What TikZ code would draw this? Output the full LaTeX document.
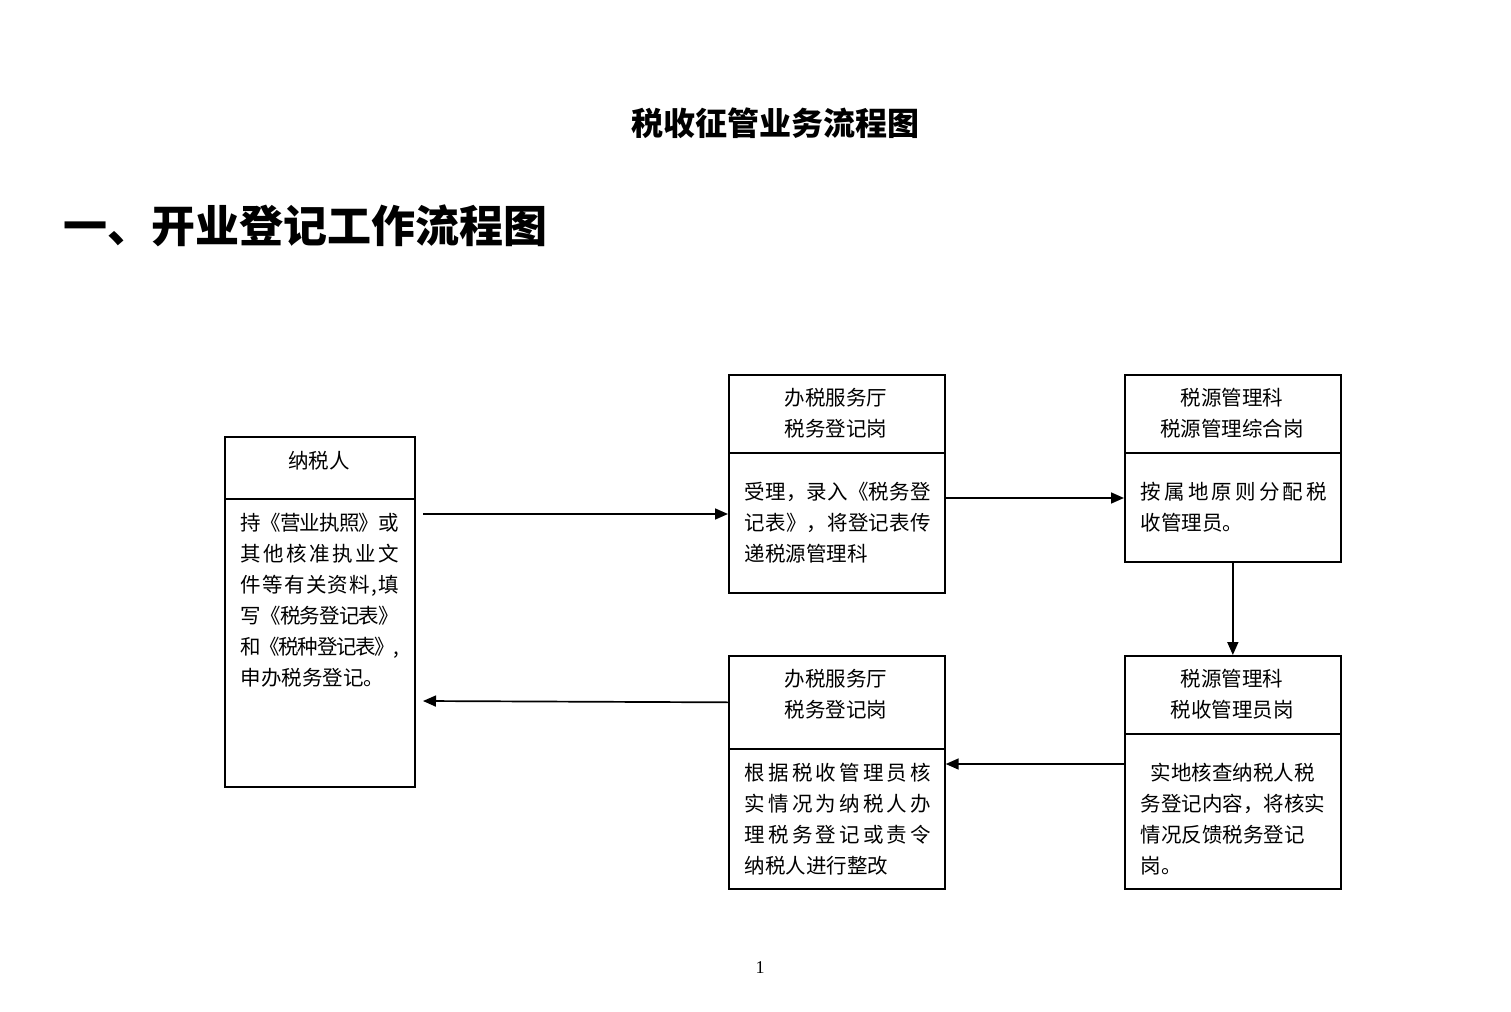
\documentclass[tikz,border=0pt]{standalone}
\usepackage{fontspec}
\setmainfont{Noto Sans CJK SC}
\newfontfamily\pagefont{Liberation Serif}
\usetikzlibrary{positioning}
\usetikzlibrary{arrows.meta}

% one justified line of CJK text
\makeatletter
\newcommand\jl[2]{\makebox[#1][s]{\@tfor\jl@ch:=#2\do{\jl@ch\hskip 0pt plus 1fil minus .25em}\unskip}}
\makeatother

\begin{document}
\begin{tikzpicture}[x=0.5pt,y=-0.5pt,line width=0.85pt]

\tikzset{cell/.style={
		draw,
		inner sep=0pt,
		anchor=north west,
		minimum width=108pt
	},
	txt/.style={inner sep=0pt, font=\fontsize{10.25}{15.55}\selectfont, align=left, anchor=north west},
	hdrtxt/.style={inner sep=0pt, font=\fontsize{10.25}{15.55}\selectfont, align=center, anchor=north},
	arr/.style={-{Triangle[length=6.5pt,width=5.5pt]}}
}
\useasboundingbox (0,0) rectangle (1511,1012);

\node[font=\bfseries\fontsize{16}{19}\selectfont] (title) at (775,123) {税收征管业务流程图};
\node[anchor=west, inner sep=0pt, font=\bfseries\fontsize{22}{26}\selectfont] (sect) at (63,226) {一、开业登记工作流程图};

% taxpayer
\node[cell, minimum width=95pt, minimum height=31pt] (tpH) at (224,436) {};
\node[cell, minimum width=95pt, minimum height=144pt, below=-\pgflinewidth of tpH] (tpB) {};
\node[hdrtxt] (tpHt) at (319,450) {纳税人};
\node[txt] (tpBt) at (240,512) {\jl{79pt}{持《营业执照》或}\\ \jl{79pt}{其他核准执业文}\\ \jl{79pt}{件等有关资料,填}\\ \jl{79pt}{写《税务登记表》}\\ \jl{79pt}{和《税种登记表》,}\\ 申办税务登记。};

% service hall, top
\node[cell, minimum height=39pt] (aH) at (728,374) {};
\node[cell, minimum height=70pt, below=-\pgflinewidth of aH] (aB) {};
\node[hdrtxt] (aHt) at (836,387) {办税服务厅\\ 税务登记岗};
\node[txt] (aBt) at (744,481) {\jl{93pt}{受理，录入《税务登}\\ \jl{93pt}{记表》，将登记表传}\\ 递税源管理科};

% tax source office, top
\node[cell, minimum height=39pt] (bH) at (1124,374) {};
\node[cell, minimum height=54.5pt, below=-\pgflinewidth of bH] (bB) {};
\node[hdrtxt] (bHt) at (1232,387) {税源管理科\\ 税源管理综合岗};
\node[txt] (bBt) at (1140,481) {\jl{93pt}{按属地原则分配税}\\ 收管理员。};

% service hall, bottom
\node[cell, minimum height=46.5pt] (cH) at (728,655) {};
\node[cell, minimum height=70pt, below=-\pgflinewidth of cH] (cB) {};
\node[hdrtxt] (cHt) at (836,668) {办税服务厅\\ 税务登记岗};
\node[txt] (cBt) at (744,762) {\jl{93pt}{根据税收管理员核}\\ \jl{93pt}{实情况为纳税人办}\\ \jl{93pt}{理税务登记或责令}\\ 纳税人进行整改};

% tax source office, bottom
\node[cell, minimum height=39pt] (dH) at (1124,655) {};
\node[cell, minimum height=77.5pt, below=-\pgflinewidth of dH] (dB) {};
\node[hdrtxt] (dHt) at (1232,668) {税源管理科\\ 税收管理员岗};
\node[txt] (dBt) at (1140,762) {\hspace*{5pt}实地核查纳税人税\\ 务登记内容，将核实\\ 情况反馈税务登记\\ 岗。};

\node[font=\pagefont\fontsize{9}{11}\selectfont] (pgno) at (760,968) {1};

% arrows
\coordinate (tpIn) at (423,514);
\coordinate (tpOut) at (423,701);
\draw[arr] (tpIn) -- (tpIn -| aB.west);
\draw[arr] ([yshift=-23pt]aB.north east) -- ([yshift=-23pt]bB.north west);
\draw[arr] (bB.south) -- (dH.north);
\draw[arr] ([yshift=-15.5pt]dB.north west) -- ([yshift=-8pt]cB.north east);
\draw[arr] (cH.west) -- (tpOut);
\end{tikzpicture}
\end{document}
